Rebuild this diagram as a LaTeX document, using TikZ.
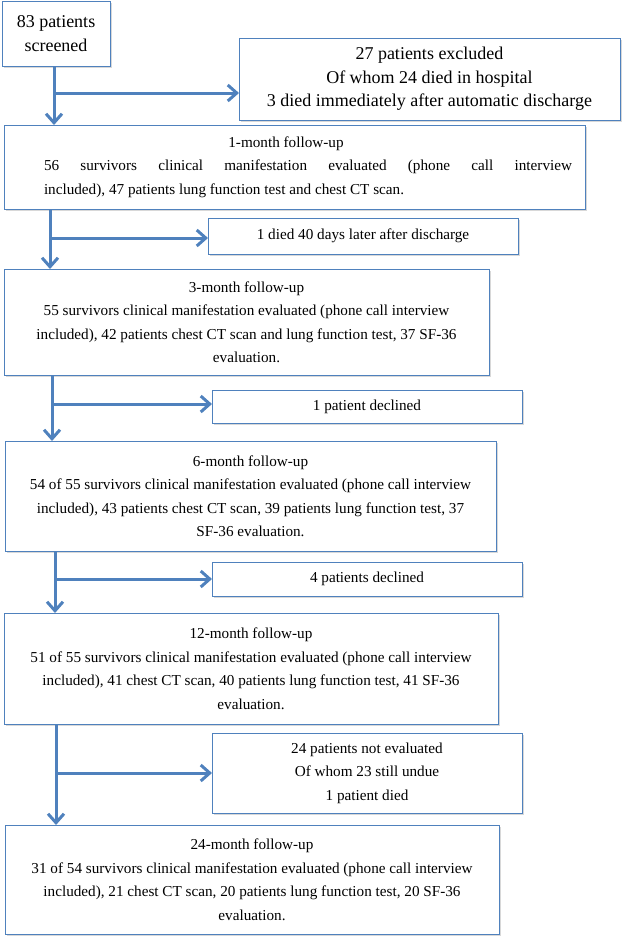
\documentclass[tikz,border=0pt]{standalone}
\usepackage{fontspec}
\setmainfont{Liberation Serif}
\usetikzlibrary{arrows.meta,shadows}
\definecolor{flowblue}{RGB}{79,129,189}

\begin{document}
\begin{tikzpicture}[x=1pt,y=-1pt,
    box/.style={draw=flowblue, line width=1pt, fill=white, rectangle, inner sep=2pt, outer sep=0pt,
        drop shadow={shadow xshift=1.5pt, shadow yshift=-1.5pt, fill=black!30}},
    bigtxt/.style={box, font=\fontsize{18}{23.5}\selectfont, align=center},
    txt/.style={box, font=\fontsize{15.2}{23.5}\selectfont, align=center},
    arr/.style={draw=flowblue, line width=3pt, -{Straight Barb[length=9pt,width=16pt]}}]
    \useasboundingbox (0,0) rectangle (625,938);
    % boxes
    \node[bigtxt, minimum width=108pt, minimum height=65pt] (screen) at (56,33.5) {83 patients\\screened};
    \node[bigtxt, minimum width=381pt, minimum height=82pt] (excl) at (429.5,79) {27 patients excluded\\Of whom 24 died in hospital\\3 died immediately after automatic discharge};
    \node[txt, text width=555pt, align=left, inner xsep=13pt, minimum height=84pt] (m1) at (294.5,167) {\spaceskip=0pt\xspaceskip=0pt\relax\hspace*{27pt}\makebox[484pt]{1-month follow-up}\\\hspace*{27pt}\makebox[528pt][s]{56 survivors clinical manifestation evaluated (phone call interview}\\\hspace*{27pt}included), 47 patients lung function test and chest CT scan.};
    \node[txt, minimum width=310pt, minimum height=36pt] (died) at (363,236) {1 died 40 days later after discharge};
    \node[txt, minimum width=485pt, minimum height=106pt] (m3) at (246.5,322) {3-month follow-up\\55 survivors clinical manifestation evaluated (phone call interview\\included), 42 patients chest CT scan and lung function test, 37 SF-36\\evaluation.};
    \node[txt, minimum width=310pt, minimum height=33pt] (dec1) at (367,406.5) {1 patient declined};
    \node[txt, minimum width=491pt, minimum height=110pt] (m6) at (250.5,496) {6-month follow-up\\54 of 55 survivors clinical manifestation evaluated (phone call interview\\included), 43 patients chest CT scan, 39 patients lung function test, 37\\SF-36 evaluation.};
    \node[txt, minimum width=310pt, minimum height=34pt] (dec4) at (367,579) {4 patients declined};
    \node[txt, minimum width=494pt, minimum height=111pt] (m12) at (251,668.5) {12-month follow-up\\51 of 55 survivors clinical manifestation evaluated (phone call interview\\included), 41 chest CT scan, 40 patients lung function test, 41 SF-36\\evaluation.};
    \node[txt, minimum width=310pt, minimum height=80pt] (noeval) at (367,773) {24 patients not evaluated\\Of whom 23 still undue\\1 patient died};
    \node[txt, minimum width=494pt, minimum height=109pt] (m24) at (252,879.5) {24-month follow-up\\31 of 54 survivors clinical manifestation evaluated (phone call interview\\included), 21 chest CT scan, 20 patients lung function test, 20 SF-36\\evaluation.};
    % branch points
    \coordinate (b1) at (54,93);
    \coordinate (b2) at (50,238);
    \coordinate (b3) at (52,404);
    \coordinate (b4) at (55,579);
    \coordinate (b5) at (56,773);
    % arrows
    \draw[arr] (screen.south -| b1) -- (m1.north -| b1);
    \draw[arr] (b1) -- (b1 -| excl.west);
    \draw[arr] (m1.south -| b2) -- (m3.north -| b2);
    \draw[arr] (b2) -- (b2 -| died.west);
    \draw[arr] (m3.south -| b3) -- (m6.north -| b3);
    \draw[arr] (b3) -- (b3 -| dec1.west);
    \draw[arr] (m6.south -| b4) -- (m12.north -| b4);
    \draw[arr] (b4) -- (b4 -| dec4.west);
    \draw[arr] (m12.south -| b5) -- (m24.north -| b5);
    \draw[arr] (b5) -- (b5 -| noeval.west);
\end{tikzpicture}
\end{document}
